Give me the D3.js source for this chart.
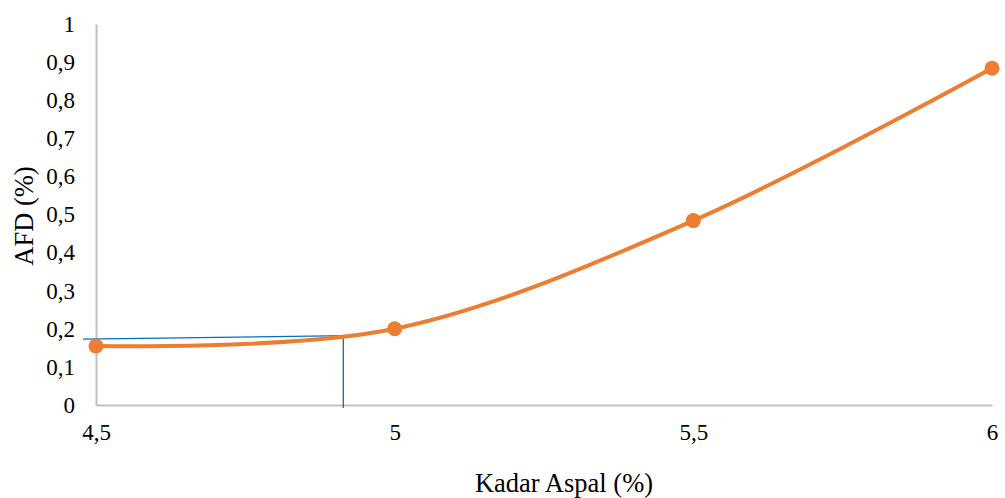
<!DOCTYPE html>
<html>
<head>
<meta charset="utf-8">
<script src="https://cdn.jsdelivr.net/npm/d3@7"></script>
<style>
  html, body { margin: 0; padding: 0; background: #fff; }
  svg { display: block; }
  svg text { font-family: "Liberation Serif", "Times New Roman", serif; fill: #000; }
</style>
</head>
<body>
<svg id="chart" width="1005" height="498"></svg>
<script>
// Asphalt content (%) vs AFD (%)
const kadarAspal = [4.5, 5, 5.5, 6];
const afd = [0.155, 0.2, 0.484, 0.884];
const xTicks = [4.5, 5, 5.5, 6];
const yTicks = [0, 0.1, 0.2, 0.3, 0.4, 0.5, 0.6, 0.7, 0.8, 0.9, 1];
// Read-off guide at the optimum asphalt content
const guideX = [4.914];
const guideY = [0.178];

const svg = d3.select("#chart");
const margin = { left: 96, right: 13, top: 24, bottom: 93 };
const W = 1005, H = 498;
const serif = "'Liberation Serif', 'Times New Roman', serif";

const x = d3.scaleLinear().domain([4.5, 6]).range([margin.left, W - margin.right]);
const y = d3.scaleLinear().domain([0, 1]).range([H - margin.bottom, margin.top]);

const fmt = d => String(d).replace(".", ",");

// Axes
const xAxis = svg.append("g")
  .attr("transform", `translate(0,${y(0)})`)
  .call(d3.axisBottom(x).tickValues(xTicks).tickSize(0).tickPadding(19).tickFormat(fmt));
const yAxis = svg.append("g")
  .attr("transform", `translate(${x(4.5)},0)`)
  .call(d3.axisLeft(y).tickValues(yTicks).tickSize(0).tickPadding(21).tickFormat(fmt));

[xAxis, yAxis].forEach(g => {
  g.attr("font-family", serif).attr("font-size", 23);
  g.select(".domain").attr("stroke", "#bfbfbf").attr("stroke-width", 2);
  g.selectAll("text").attr("fill", "#000");
});

// Axis titles
svg.append("text")
  .attr("x", (x(4.5) + x(6)) / 2 + 20).attr("y", 492)
  .attr("text-anchor", "middle").attr("font-family", serif).attr("font-size", 26.5)
  .text("Kadar Aspal (%)");
svg.append("text")
  .attr("transform", `translate(33,${216}) rotate(-90)`)
  .attr("text-anchor", "middle").attr("font-family", serif).attr("font-size", 26.5)
  .text("AFD (%)");

// Guide lines
const guide = svg.append("g").attr("stroke", "#0070c0").attr("stroke-width", 1.3).attr("fill", "none");
guide.append("line")
  .attr("x1", x(4.5) - 13).attr("y1", y(guideY[0]) + 2)
  .attr("x2", x(guideX[0]) + 5).attr("y2", y(guideY[0]) - 1.5);
guide.append("line")
  .attr("x1", x(guideX[0])).attr("y1", y(guideY[0]) - 1.5)
  .attr("x2", x(guideX[0])).attr("y2", y(0) + 3);

// Smoothed series
const pts = kadarAspal.map((k, i) => [k, afd[i]]);
const line = d3.line().x(d => x(d[0])).y(d => y(d[1])).curve(d3.curveCardinal.tension(0));
svg.append("path").datum(pts)
  .attr("d", line).attr("fill", "none").attr("stroke", "#ed7d31").attr("stroke-width", 4)
  .attr("stroke-linecap", "round");

svg.append("g").selectAll("circle").data(pts).join("circle")
  .attr("cx", d => x(d[0])).attr("cy", d => y(d[1])).attr("r", 7.5).attr("fill", "#ed7d31");
</script>
</body>
</html>
